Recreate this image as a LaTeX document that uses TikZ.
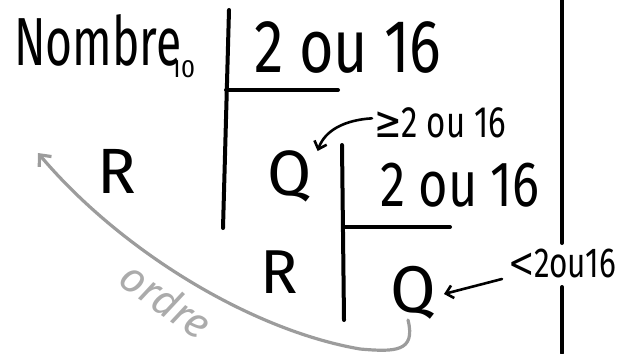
\documentclass[tikz,border=0pt]{standalone}
\usepackage{fontspec}
\usepackage{graphicx}
\setmainfont{Fira Sans}
\newfontfamily\symf{DejaVu Sans}
\usetikzlibrary{arrows.meta,calc}
\definecolor{pencil}{HTML}{9C9C9C}
\definecolor{pencilt}{HTML}{ABABAB}
\begin{document}
\begin{tikzpicture}[x=1pt,y=-1pt,
  hw/.style={inner sep=0pt, anchor=base west},
  ink/.style={line width=4pt, line cap=round},
  arr/.style={line width=2.6pt, line cap=round, -{Straight Barb[length=7pt,width=13pt]}},
  grayarr/.style={line width=3.2pt, line cap=round, draw=pencil, -{Straight Barb[length=9pt,width=16pt]}}]
\useasboundingbox (0,0) rectangle (628,353);
% texts
\node[hw] (nb) at (14,65) {\scalebox{0.68}[1]{\fontsize{68}{70}\selectfont Nombre}};
\node[hw] (sub) at (170,77) {\fontsize{25}{27}\selectfont 10};
\node[hw] (d1) at (254,72) {\scalebox{0.79}[1]{\fontsize{75}{80}\selectfont 2 ou 16}};
\node[hw] (r1) at (97,193) {\fontsize{64}{66}\selectfont R};
\node[hw] (q1) at (267,195) {\fontsize{64}{66}\selectfont Q};
\node[hw] (ge) at (374,137) {\scalebox{0.75}[1]{\fontsize{44}{46}\selectfont{\symf ≥}2 ou 16}};
\node[hw] (d2) at (380,206) {\scalebox{0.79}[1]{\fontsize{64}{66}\selectfont 2 ou 16}};
\node[hw] (r2) at (260,293) {\fontsize{62}{64}\selectfont R};
\node[hw] (q2) at (390,312) {\fontsize{66}{68}\selectfont Q};
\node[hw] (lt) at (508,277) {\scalebox{0.75}[1]{\fontsize{42}{44}\selectfont{\symf <}2ou16}};
\node[inner sep=0pt, text=pencilt, rotate=-35] (ord) at (166,300) {\fontsize{42}{44}\selectfont\itshape ordre};
% division lines
\draw[ink] (229,10) -- (223,228);
\draw[ink] (226,90) -- (338,90);
\draw[ink] (342,145) -- (344,320);
\draw[ink] (343,227) -- (450,227);
\draw[ink] (562,0) -- (562,243);
\draw[ink] (562,287) -- (562,353);
% arrows
\coordinate (tip) at (38,153);
\draw[arr] ([shift={(-2,-4)}]ge.west) .. controls (345,120) and (325,130) .. ([shift={(6,-44)}]q1.base east);
\draw[arr] ([shift={(-6,16)}]lt.west) -- ([shift={(8,-18)}]q2.base east);
\draw[grayarr] ([shift={(-28,8)}]q2.base east) .. controls (416,352) and (395,352) .. (360,349)
  .. controls (250,330) and (120,250) .. (tip);
\end{tikzpicture}
\end{document}
